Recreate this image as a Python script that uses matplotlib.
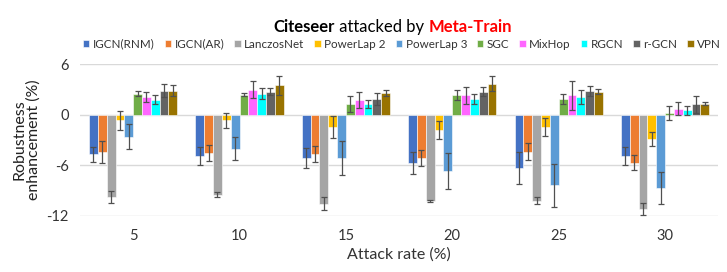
import matplotlib
matplotlib.use("Agg")
import matplotlib.pyplot as plt
import numpy as np

categories = ["5", "10", "15", "20", "25", "30"]
models = ["IGCN(RNM)", "IGCN(AR)", "LanczosNet", "PowerLap 2", "PowerLap 3",
          "SGC", "MixHop", "RGCN", "r-GCN", "VPN"]
colors = ["#4472C4", "#ED7D31", "#A5A5A5", "#FFC000", "#5B9BD5",
          "#70AD47", "#FF66FF", "#00FFFF", "#636363", "#997300"]

# values per model across attack rates 5..30
igcn_rnm = [-4.75, -4.95, -5.15, -5.74, -6.34, -4.95]
igcn_ar = [-4.43, -4.55, -4.67, -5.15, -4.44, -5.74]
lanczos = [-9.82, -9.54, -10.6, -10.3, -10.22, -11.2]
powerlap2 = [-0.71, -0.71, -1.5, -1.86, -1.5, -2.91]
powerlap3 = [-2.65, -4.04, -5.15, -6.73, -8.4, -8.7]
sgc = [2.46, 2.34, 1.19, 2.34, 1.86, 0.2]
mixhop = [2.06, 2.97, 1.7, 2.26, 2.26, 0.71]
rgcn = [1.74, 2.46, 1.23, 1.86, 2.06, 0.5]
r_gcn = [2.85, 2.73, 1.86, 2.73, 2.77, 1.19]
vpn = [2.85, 3.45, 2.53, 3.68, 2.73, 1.3]

err_igcn_rnm = [0.87, 1.07, 1.2, 1.33, 1.9, 1.1]
err_igcn_ar = [1.3, 0.93, 0.95, 0.97, 1.0, 0.87]
err_lanczos = [0.7, 0.28, 0.75, 0.12, 0.4, 0.73]
err_powerlap2 = [1.1, 0.9, 1.3, 1.1, 1.05, 0.83]
err_powerlap3 = [1.47, 1.35, 2.0, 2.1, 2.55, 1.9]
err_sgc = [0.3, 0.2, 0.95, 0.57, 0.6, 0.8]
err_mixhop = [0.63, 1.03, 0.93, 1.0, 1.76, 0.75]
err_rgcn = [0.55, 0.67, 0.48, 0.62, 0.8, 0.5]
err_r_gcn = [0.8, 0.4, 0.7, 0.55, 0.6, 1.0]
err_vpn = [0.67, 1.1, 0.36, 0.9, 0.3, 0.2]

values = [igcn_rnm, igcn_ar, lanczos, powerlap2, powerlap3, sgc, mixhop, rgcn, r_gcn, vpn]
errors = [err_igcn_rnm, err_igcn_ar, err_lanczos, err_powerlap2, err_powerlap3,
          err_sgc, err_mixhop, err_rgcn, err_r_gcn, err_vpn]

plt.rcParams['font.family'] = ['Lato', 'DejaVu Sans']

fig = plt.figure(figsize=(7.27, 2.72), dpi=100)
ax = fig.add_axes([0.110, 0.2077, 0.878, 0.557])

n = len(models)
x = np.arange(len(categories))
bw = 0.083
for i, (m, v, e, c) in enumerate(zip(models, values, errors, colors)):
    pos = x + (i - (n - 1) / 2) * bw
    ax.bar(pos, v, width=bw, color=c, edgecolor="white", linewidth=0.4, label=m, zorder=2)
    ax.errorbar(pos, v, yerr=e, fmt="none", ecolor="#505050", elinewidth=0.9,
                capsize=2, capthick=0.9, zorder=3)

ax.set_ylim(-12, 6)
ax.set_xlim(-0.5, len(categories) - 0.5)
ax.set_yticks([6, 0, -6, -12])
ax.set_yticklabels(["6", "0", "-6", "-12"])
ax.set_xticks(x)
ax.set_xticklabels(categories)
ax.grid(axis="y", color="#D9D9D9", linewidth=1, zorder=0)
ax.set_axisbelow(True)
for s in ax.spines.values():
    s.set_visible(False)
ax.tick_params(axis="both", length=0, labelsize=10.5, colors="#333333", pad=8)
ax.tick_params(axis="x", pad=10)
ax.set_xlabel("Attack rate (%)", fontsize=11.5, color="#333333", labelpad=3)
ax.set_ylabel("Robustness\nenhancement (%)", fontsize=11.5, color="#222222", labelpad=4, linespacing=1.05)

leg = fig.legend(loc="center", bbox_to_anchor=(0.553, 0.838), ncol=10, frameon=False,
                 fontsize=8.4, handlelength=0.55, handleheight=0.55, handletextpad=0.3,
                 columnspacing=0.85, borderpad=0)
for t in leg.get_texts():
    t.set_color("#333333")

# title composed of three parts
fig.canvas.draw()
renderer = fig.canvas.get_renderer()
parts = [("Citeseer", "bold", "black"), (" attacked by ", "normal", "black"), ("Meta-Train", "bold", "red")]
texts = []
for s, w, c in parts:
    t = fig.text(0, 0.9, s, fontsize=12, fontweight=w, color=c, va="center", ha="left")
    texts.append(t)
widths = [t.get_window_extent(renderer).width for t in texts]
total = sum(widths)
figw = fig.get_figwidth() * fig.dpi
start = 393 - total / 2
for t, w in zip(texts, widths):
    t.set_x(start / figw)
    start += w

fig.savefig("out.png", dpi=100)
